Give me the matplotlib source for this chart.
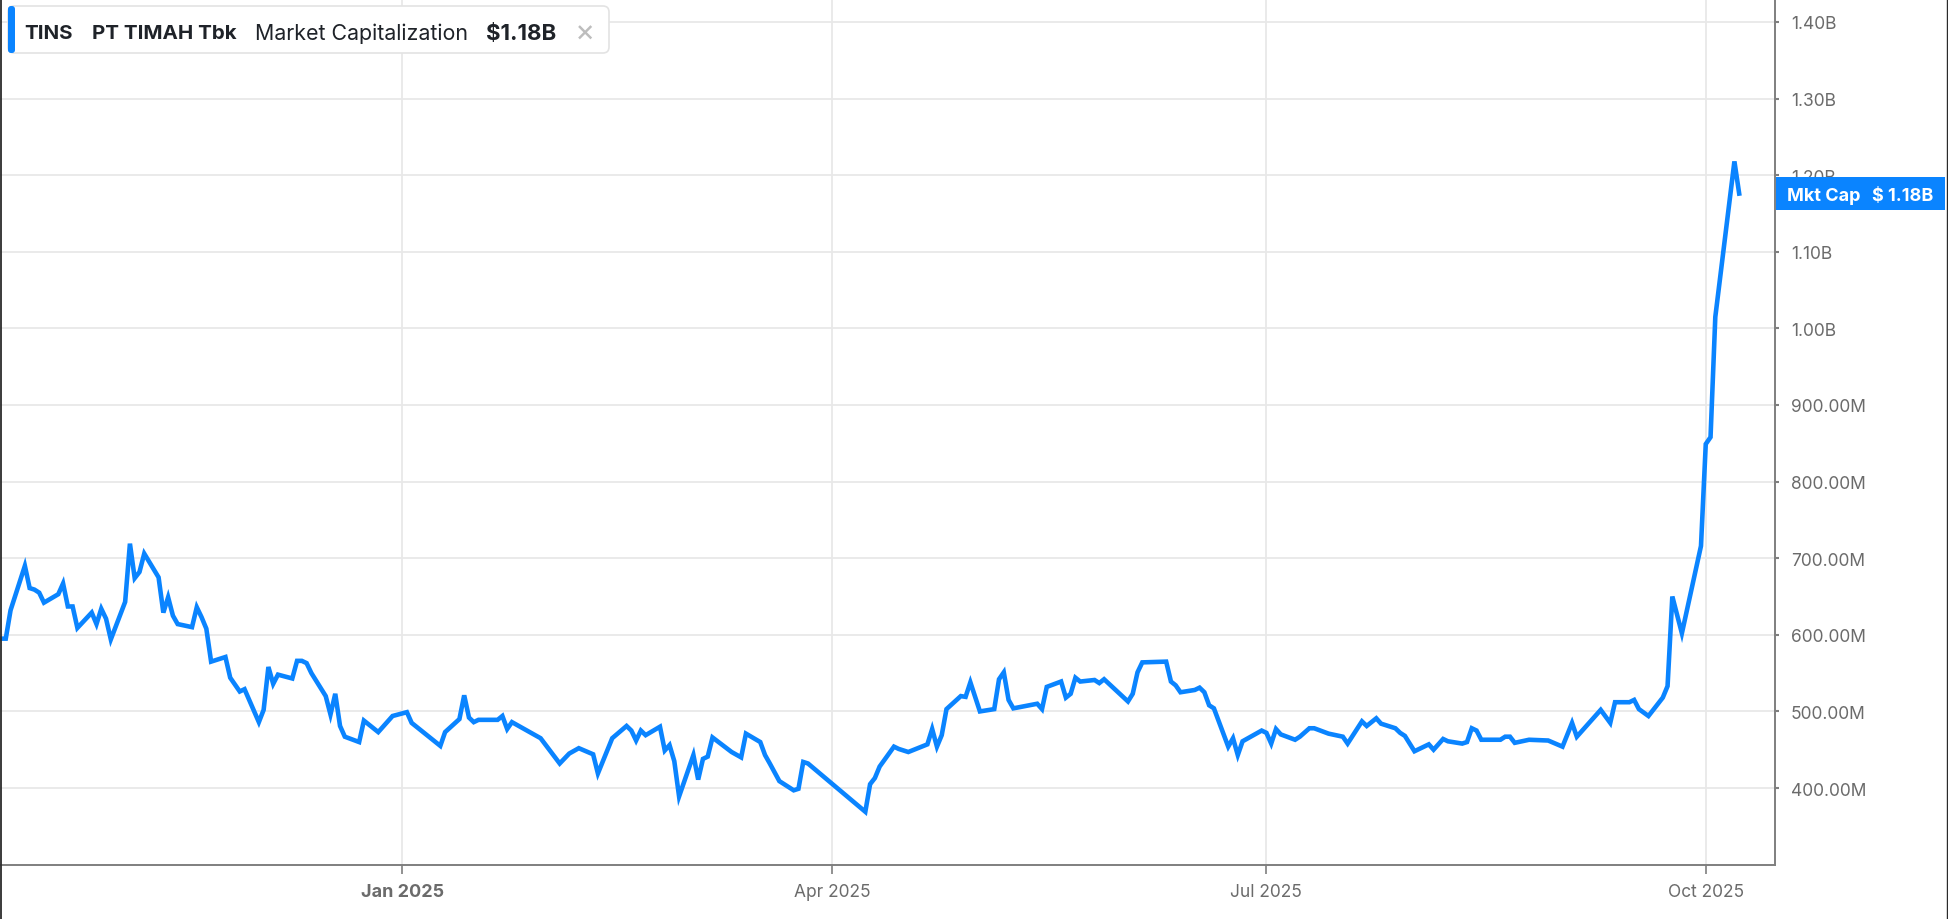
import matplotlib
matplotlib.use("Agg")
import matplotlib.pyplot as plt
from matplotlib.patches import FancyBboxPatch, Rectangle
from matplotlib.lines import Line2D
from matplotlib.transforms import IdentityTransform
import pandas as pd

# ---------------- data ----------------
ticker = "TINS"
company = "PT TIMAH Tbk"
metric = "Market Capitalization"

dates = [
    "2024-10-09", "2024-10-10", "2024-10-11", "2024-10-14", "2024-10-15", "2024-10-16", "2024-10-17",
    "2024-10-18", "2024-10-21", "2024-10-22", "2024-10-23", "2024-10-24", "2024-10-25", "2024-10-28",
    "2024-10-29", "2024-10-30", "2024-10-31", "2024-11-01", "2024-11-04", "2024-11-05", "2024-11-06",
    "2024-11-07", "2024-11-08", "2024-11-11", "2024-11-12", "2024-11-13", "2024-11-14", "2024-11-15",
    "2024-11-18", "2024-11-19", "2024-11-20", "2024-11-21", "2024-11-22", "2024-11-25", "2024-11-26",
    "2024-11-28", "2024-11-29", "2024-12-02", "2024-12-03", "2024-12-04", "2024-12-05", "2024-12-06",
    "2024-12-09", "2024-12-10", "2024-12-11", "2024-12-12", "2024-12-13", "2024-12-16", "2024-12-17",
    "2024-12-18", "2024-12-19", "2024-12-20", "2024-12-23", "2024-12-24", "2024-12-27", "2024-12-30",
    "2025-01-02", "2025-01-03", "2025-01-06", "2025-01-09", "2025-01-10", "2025-01-13", "2025-01-14",
    "2025-01-15", "2025-01-16", "2025-01-17", "2025-01-21", "2025-01-22", "2025-01-23", "2025-01-24",
    "2025-01-30", "2025-02-03", "2025-02-05", "2025-02-07", "2025-02-10", "2025-02-11", "2025-02-14",
    "2025-02-17", "2025-02-18", "2025-02-19", "2025-02-20", "2025-02-21", "2025-02-24", "2025-02-25",
    "2025-02-26", "2025-02-27", "2025-02-28", "2025-03-01", "2025-03-03", "2025-03-04", "2025-03-05",
    "2025-03-06", "2025-03-07", "2025-03-11", "2025-03-13", "2025-03-14", "2025-03-17", "2025-03-18",
    "2025-03-19", "2025-03-21", "2025-03-24", "2025-03-25", "2025-03-26", "2025-03-27", "2025-04-08",
    "2025-04-09", "2025-04-10", "2025-04-11", "2025-04-14", "2025-04-15", "2025-04-17", "2025-04-21",
    "2025-04-22", "2025-04-23", "2025-04-24", "2025-04-25", "2025-04-28", "2025-04-29", "2025-04-30",
    "2025-05-02", "2025-05-05", "2025-05-06", "2025-05-07", "2025-05-08", "2025-05-09", "2025-05-14",
    "2025-05-15", "2025-05-16", "2025-05-19", "2025-05-20", "2025-05-21", "2025-05-22", "2025-05-23",
    "2025-05-26", "2025-05-27", "2025-05-28", "2025-06-02", "2025-06-03", "2025-06-04", "2025-06-05",
    "2025-06-10", "2025-06-11", "2025-06-12", "2025-06-13", "2025-06-16", "2025-06-17", "2025-06-18",
    "2025-06-19", "2025-06-20", "2025-06-23", "2025-06-24", "2025-06-25", "2025-06-26", "2025-06-30",
    "2025-07-01", "2025-07-02", "2025-07-03", "2025-07-04", "2025-07-07", "2025-07-08", "2025-07-10",
    "2025-07-11", "2025-07-14", "2025-07-17", "2025-07-18", "2025-07-21", "2025-07-22", "2025-07-24",
    "2025-07-25", "2025-07-28", "2025-07-29", "2025-07-30", "2025-08-01", "2025-08-04", "2025-08-05",
    "2025-08-07", "2025-08-08", "2025-08-11", "2025-08-12", "2025-08-13", "2025-08-14", "2025-08-15",
    "2025-08-19", "2025-08-20", "2025-08-21", "2025-08-22", "2025-08-25", "2025-08-29", "2025-09-01",
    "2025-09-03", "2025-09-04", "2025-09-09", "2025-09-11", "2025-09-12", "2025-09-15", "2025-09-16",
    "2025-09-17", "2025-09-19", "2025-09-22", "2025-09-23", "2025-09-24", "2025-09-26", "2025-09-30",
    "2025-10-01", "2025-10-02", "2025-10-03", "2025-10-07", "2025-10-08",
]

mkt_cap_m = [
    595, 595, 632, 690, 661, 659, 655,
    642, 653, 667, 637, 637, 609, 629,
    614, 634, 621, 594, 643, 719, 674,
    682, 706, 675, 629, 649, 625, 614,
    610, 636, 623, 608, 565, 571, 544,
    526, 529, 486, 502, 558, 536, 548,
    543, 566, 566, 563, 550, 520, 496,
    523, 481, 467, 460, 488, 473, 494,
    499, 485, 470, 455, 473, 490, 521,
    492, 486, 489, 489, 494, 477, 486,
    465, 432, 445, 452, 444, 419, 465,
    481, 475, 462, 475, 469, 480, 449,
    456, 435, 389, 407, 443, 411, 438,
    441, 466, 447, 440, 471, 460, 443,
    432, 409, 397, 399, 434, 432, 369,
    405, 413, 428, 454, 451, 447, 457,
    477, 454, 469, 503, 520, 519, 538,
    500, 503, 542, 551, 515, 504, 510,
    503, 532, 539, 518, 523, 544, 539,
    541, 537, 542, 513, 523, 551, 564,
    565, 539, 534, 525, 528, 531, 525,
    508, 504, 454, 465, 443, 461, 475,
    472, 458, 477, 470, 463, 467, 478,
    478, 471, 467, 458, 487, 481, 491,
    484, 478, 472, 468, 448, 457, 450,
    464, 461, 458, 460, 478, 475, 463,
    463, 467, 467, 459, 463, 462, 454,
    485, 467, 502, 485, 512, 512, 515,
    503, 494, 518, 533, 650, 602, 716,
    849, 858, 1015, 1218, 1176,
]

y_ticks_m = [400, 500, 600, 700, 800, 900, 1000, 1100, 1200, 1300, 1400]
x_tick_dates = ["2025-01-01", "2025-04-01", "2025-07-01", "2025-10-01"]
x_tick_labels = ["Jan 2025", "Apr 2025", "Jul 2025", "Oct 2025"]
x_range = ("2024-10-08 19:00", "2025-10-15 12:00")
y_range = (299.5, 1430)

# ---------------- style ----------------
BLUE = "#0a84ff"
GRID = "#e8e8e8"
AXC = "#7f7f7f"
TXT = "#6b6b6b"
DARK = "#1f2329"
FONT = ["Inter", "DejaVu Sans"]
plt.rcParams["font.family"] = FONT

W, H = 1948, 920
fig = plt.figure(figsize=(W / 100, H / 100), dpi=100)
fig.patch.set_facecolor("white")

ax = fig.add_axes([0, (H - 866) / H, 1775 / W, 866 / H])
x = pd.to_datetime(dates)
ax.plot(x, mkt_cap_m, color=BLUE, lw=3.3, solid_joinstyle="miter", zorder=3)

ax.set_xlim(pd.Timestamp(x_range[0]), pd.Timestamp(x_range[1]))
ax.set_ylim(*y_range)

for s in ["left", "top"]:
    ax.spines[s].set_visible(False)
for s in ["right", "bottom"]:
    ax.spines[s].set_color(AXC)
    ax.spines[s].set_linewidth(1.4)

ax.yaxis.tick_right()
ax.set_yticks(y_ticks_m)
ax.set_yticklabels([f"{v/1000:.2f}B" if v >= 1000 else f"{v:.2f}M" for v in y_ticks_m])
ax.tick_params(axis="y", length=3, width=1.5, color=AXC, pad=8.5, labelsize=12.5, labelcolor=TXT)

ax.set_xticks(pd.to_datetime(x_tick_dates))
ax.set_xticklabels(x_tick_labels)
ax.tick_params(axis="x", length=6.5, width=1.2, color=AXC, pad=6.5, labelsize=12.5, labelcolor=TXT)
for lbl in ax.get_xticklabels():
    if lbl.get_text().startswith("Jan"):
        lbl.set_fontweight("bold")
        lbl.set_fontsize(13)

ax.grid(True, color=GRID, lw=1.3, zorder=0)
ax.set_axisbelow(True)

# ---------------- legend box (pixel coords, origin bottom-left) ----------------
ident = IdentityTransform()
def py(y_top):
    return H - y_top

box = FancyBboxPatch((8, py(54)), 601, 47, boxstyle="round,pad=0,rounding_size=6",
                     transform=ident, facecolor="white", edgecolor="#e3e3e3", lw=1.2, zorder=10)
fig.patches.append(box)
bar = FancyBboxPatch((8, py(54)), 7, 47, boxstyle="round,pad=0,rounding_size=3",
                     transform=ident, facecolor=BLUE, edgecolor="none", zorder=11)
fig.patches.append(bar)

last_val = mkt_cap_m[-1]
cy = py(34)
fig.text(24 / W, cy / H, ticker, fontsize=14.8, fontweight="bold", color=DARK, va="center", ha="left", zorder=12)
fig.text(92 / W, cy / H, company, fontsize=14.8, fontweight="bold", color=DARK, va="center", ha="left", zorder=12)
fig.text(255 / W, cy / H, metric, fontsize=15.4, color=DARK, va="center", ha="left", zorder=12)
fig.text(486 / W, cy / H, f"${last_val/1000:.2f}B", fontsize=16, fontweight="bold", color=DARK,
         va="center", ha="left", zorder=12)
fig.text(585 / W, cy / H, "\u00d7", fontsize=22, color="#bdbdbd", va="center", ha="center", zorder=12)

# ---------------- last value tag on the axis ----------------
tag = Rectangle((1776, py(211)), 169, 33, transform=ident, facecolor=BLUE, edgecolor="none", zorder=20)
fig.patches.append(tag)
ty = py(196.5)
fig.text(1787 / W, ty / H, "Mkt Cap", fontsize=13, fontweight="bold", color="white", va="center", ha="left", zorder=21)
fig.text(1933 / W, ty / H, f"$ {last_val/1000:.2f}B", fontsize=13, fontweight="bold", color="white",
         va="center", ha="right", zorder=21)

# ---------------- screenshot frame edges ----------------
fig.lines.append(Line2D([0.8, 0.8], [0, H], transform=ident, color="#2b2b2b", lw=1.3))
fig.lines.append(Line2D([1946.5, 1946.5], [0, H], transform=ident, color="#2b2b2b", lw=1.0))

fig.savefig("out.png", dpi=100, facecolor="white")
